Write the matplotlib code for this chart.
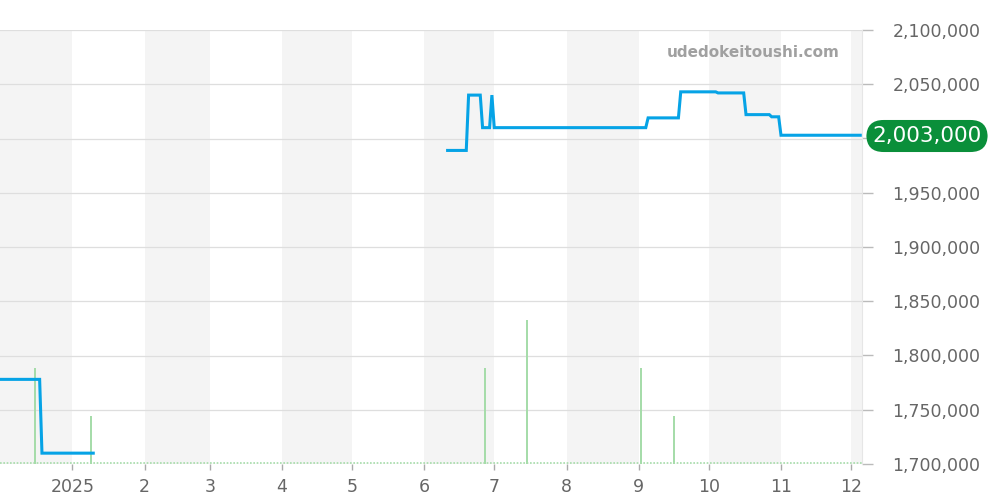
import matplotlib
matplotlib.use("Agg")
import matplotlib.pyplot as plt
import numpy as np
import pandas as pd

# ---- data ----
price_dates = ["2024-12-01", "2024-12-18", "2024-12-19", "2025-01-10", None,
               "2025-06-11", "2025-06-19", "2025-06-20", "2025-06-25", "2025-06-26",
               "2025-06-29", "2025-06-30", "2025-07-01", "2025-09-04", "2025-09-05",
               "2025-09-18", "2025-09-19", "2025-10-04", "2025-10-05", "2025-10-16",
               "2025-10-17", "2025-10-27", "2025-10-28", "2025-10-31", "2025-11-01",
               "2025-12-05"]
price_values = [1778000, 1778000, 1710000, 1710000, None,
                1989000, 1989000, 2040000, 2040000, 2010000,
                2010000, 2040000, 2010000, 2010000, 2019000,
                2019000, 2043000, 2043000, 2042000, 2042000,
                2022000, 2022000, 2020000, 2020000, 2003000,
                2003000]

volume_dates = ["2024-12-16", "2025-01-09", "2025-06-27", "2025-07-15",
                "2025-09-02", "2025-09-16"]
volume_values = [2, 1, 2, 3, 2, 1]

yticks = [1700000, 1750000, 1800000, 1850000, 1900000, 1950000, 2000000, 2050000, 2100000]
month_ticks = ["2025-01-01", "2025-02-01", "2025-03-01", "2025-04-01", "2025-05-01",
               "2025-06-01", "2025-07-01", "2025-08-01", "2025-09-01", "2025-10-01",
               "2025-11-01", "2025-12-01"]
month_labels = ["2025", "2", "3", "4", "5", "6", "7", "8", "9", "10", "11", "12"]
last_value = 2003000
last_label = "2,003,000"
watermark = "udedokeitoushi.com"

# ---- figure ----
fig = plt.figure(figsize=(10, 5), dpi=100)
ax = fig.add_axes([0.0, 0.072, 0.862, 0.868])
x0 = pd.Timestamp("2024-12-01")
x1 = pd.Timestamp("2025-12-05 18:00")
ax.set_xlim(x0, x1)
ax.set_ylim(1700000, 2100000)

# alternating month bands
band_starts = [pd.Timestamp("2024-12-01")] + [pd.Timestamp(d) for d in month_ticks]
for i, s in enumerate(band_starts):
    e = s + pd.offsets.MonthBegin(1)
    if i % 2 == 0:
        ax.axvspan(s, e, color="#f4f4f4", zorder=0, lw=0)

for yv in yticks:
    ax.axhline(yv, color="#dedede", lw=0.9, zorder=1)

# volume on twin axis
axv = ax.twinx()
axv.set_ylim(0, 9.04)
vd = pd.to_datetime(volume_dates)
axv.bar(vd, volume_values, width=0.9, color="#a6dcaa", zorder=2)
axv.plot([x0, x1], [0.02, 0.02], color="#a6dcaa", lw=1.2, ls=(0, (1, 1)), zorder=2)
axv.set_yticks([])
axv.set_xlim(x0, x1)
for sp in axv.spines.values():
    sp.set_visible(False)

# price line on top
axp = ax.twinx()
axp.set_ylim(1700000, 2100000)
axp.set_xlim(x0, x1)
pd_dates = [pd.Timestamp(d) if d else pd.Timestamp("2025-03-01") for d in price_dates]
pv = [v if v is not None else np.nan for v in price_values]
axp.plot(pd_dates, pv, color="#06a3e6", lw=2.2, solid_joinstyle="miter", zorder=5)
axp.set_yticks(yticks)
# the label nearest the last value is covered by the badge
axp.set_yticklabels(["" if abs(v - last_value) < 25000 else f"{v:,}" for v in yticks])
axp.tick_params(axis="y", colors="#bbbbbb", labelcolor="#666666", labelsize=12.5,
                length=8, width=1, pad=14)
for sp in axp.spines.values():
    sp.set_visible(False)
axp.spines["right"].set_visible(True)
axp.spines["right"].set_color("#e6e6e6")

ax.set_yticks([])
ax.set_xticks(pd.to_datetime(month_ticks))
ax.set_xticklabels(month_labels)
ax.tick_params(axis="x", colors="#aaaaaa", labelcolor="#666666", labelsize=12.5,
               length=4, width=1, pad=6)
for sp in ax.spines.values():
    sp.set_visible(False)

# last value badge
fig.text(0.927, 0.728, last_label, color="white", fontsize=15.5, ha="center", va="center",
         bbox=dict(boxstyle="round,pad=0.28,rounding_size=0.8", fc="#0a8f3a", ec="none"))

fig.text(0.84, 0.895, watermark, color="#a0a0a0", fontsize=11, fontweight="bold",
         ha="right", va="center")

fig.savefig("out.png", dpi=100)
